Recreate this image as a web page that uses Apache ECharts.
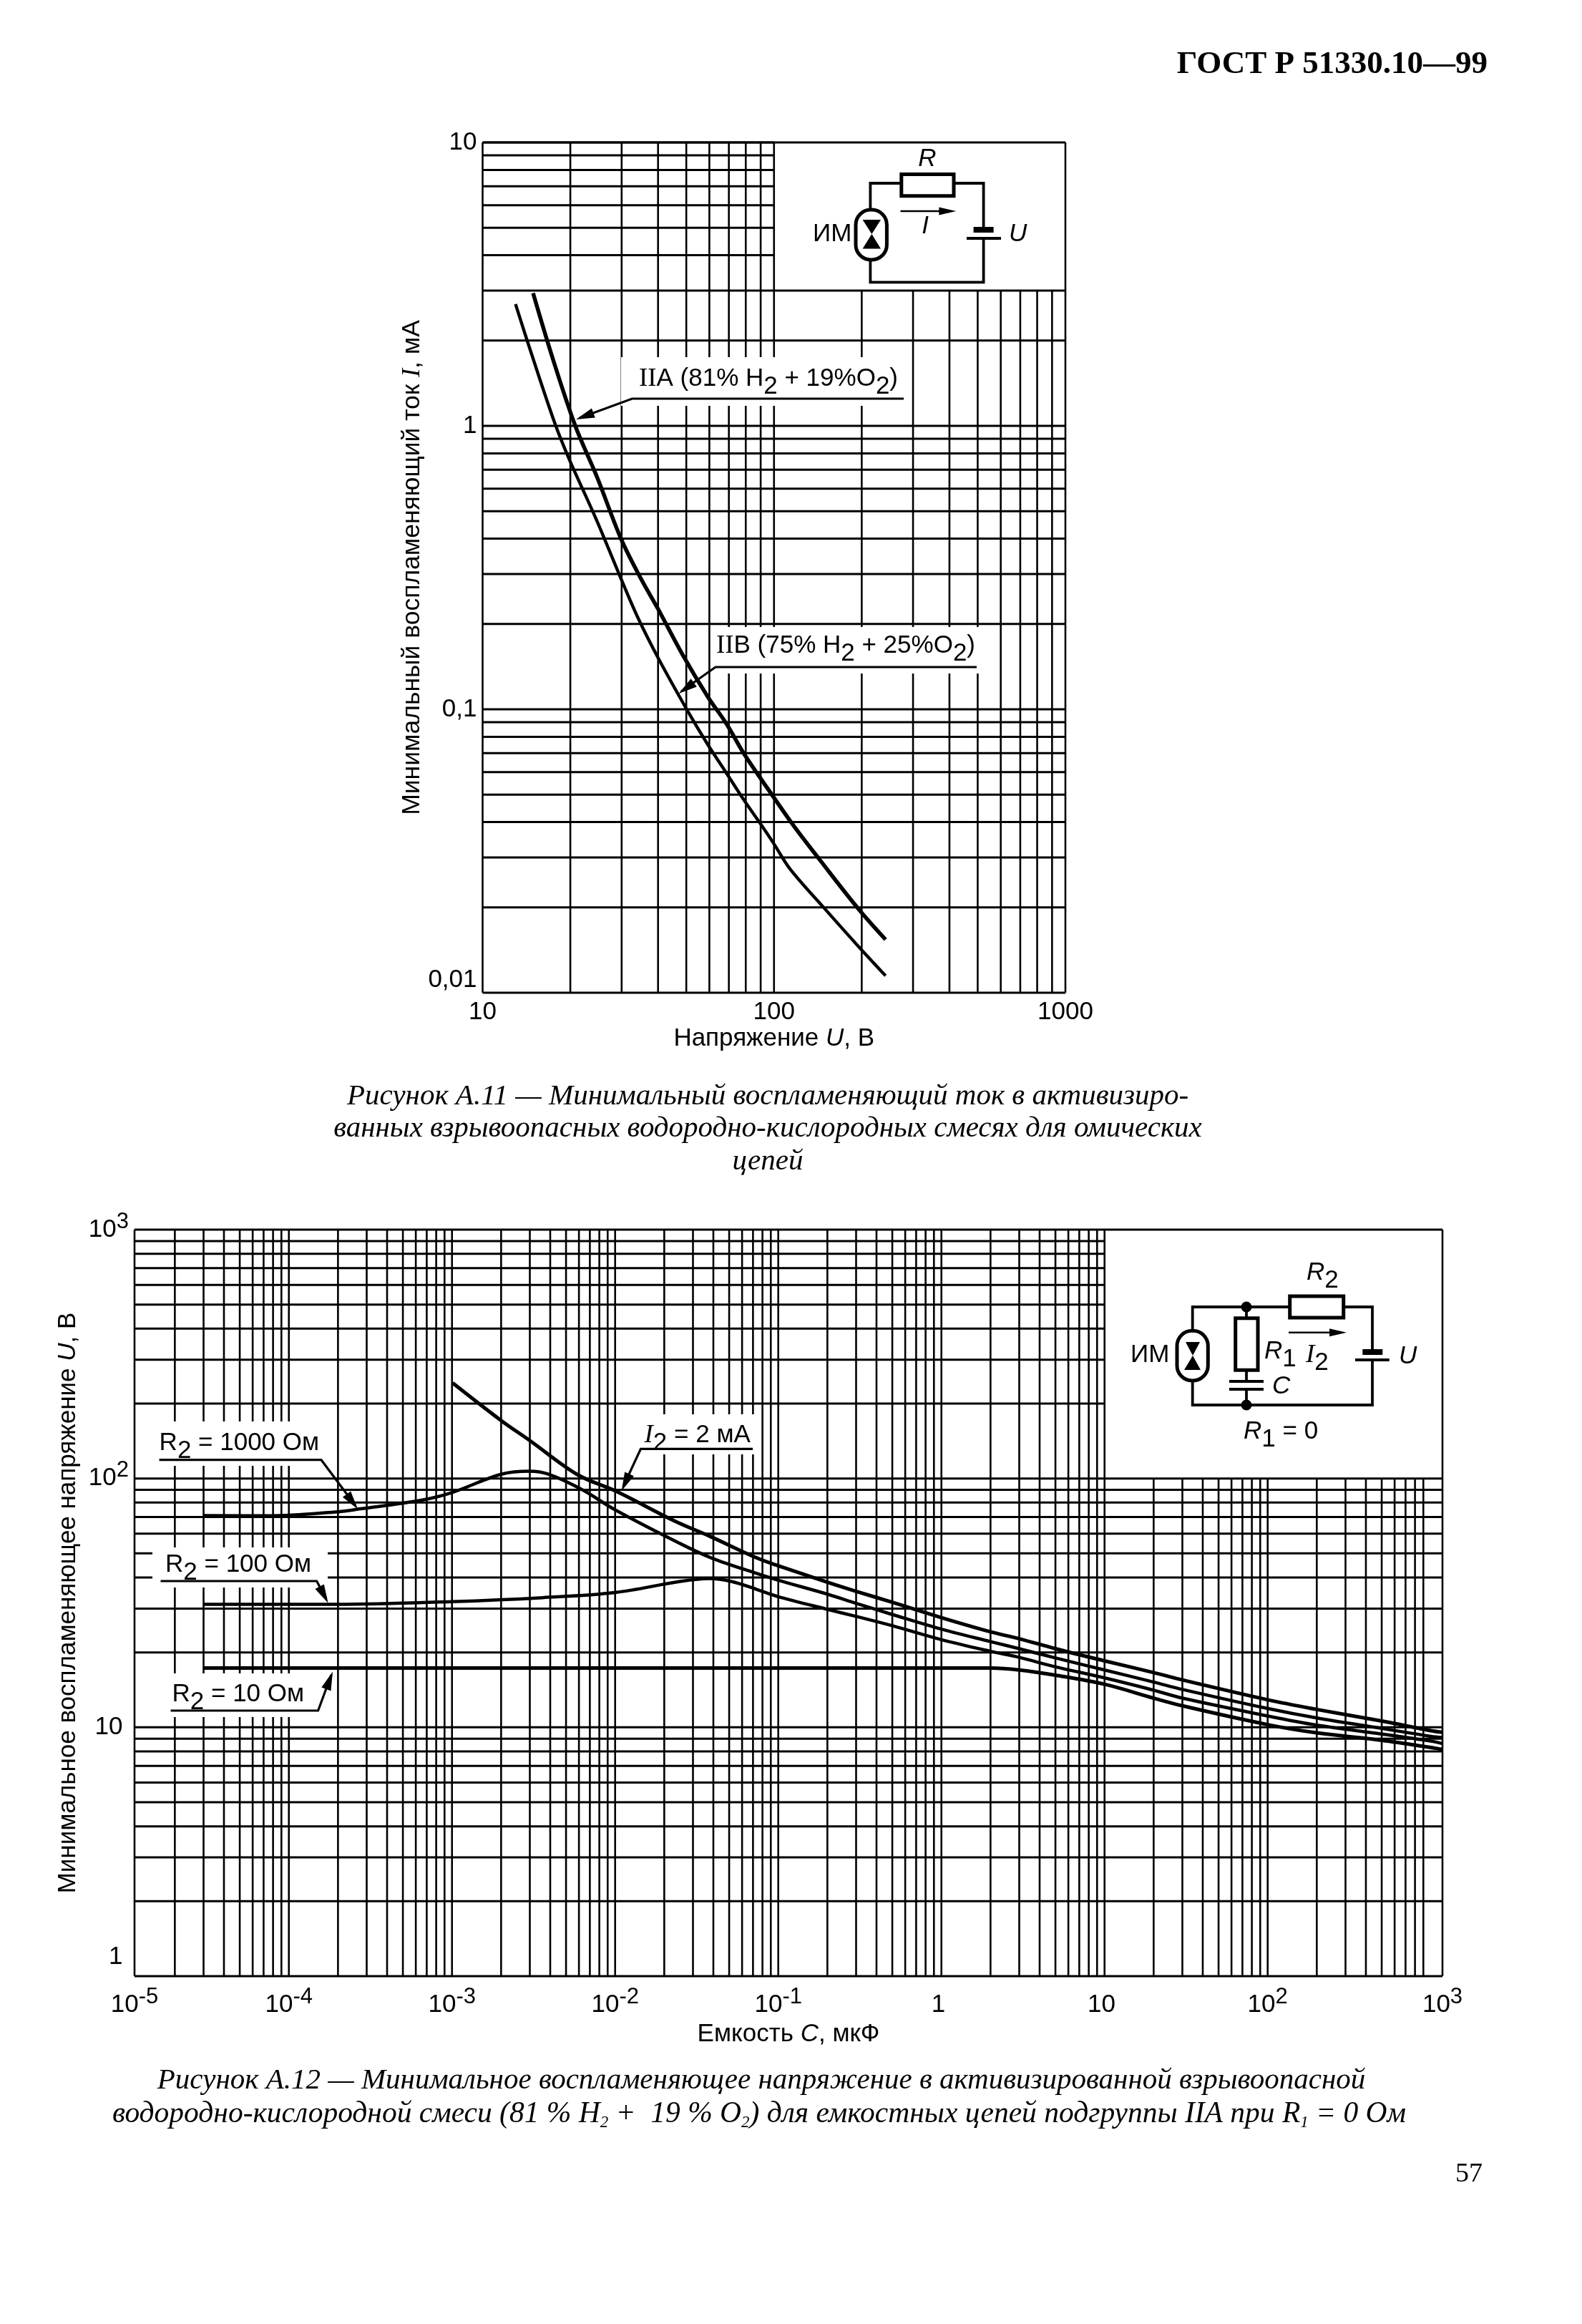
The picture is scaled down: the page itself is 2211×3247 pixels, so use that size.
<!DOCTYPE html>
<html><head><meta charset="utf-8">
<style>html,body{margin:0;padding:0;background:#fff}#c{width:2211px;height:3247px}</style>
<script src="https://cdn.jsdelivr.net/npm/echarts@6/dist/echarts.min.js"></script>
</head><body><div id="c"></div>
<script>
// ---------- Figure A.11 data ----------
const xTickLabels1 = ['10','100','1000'];
const yTickLabels1 = ['0,01','0,1','1','10'];
const curveIIA = [[14.9,2.94],[17.4,1.73],[20.8,1.0],[24.7,0.66],[29.9,0.398],[35,0.288],[40,0.226],[48.7,0.155],[59.3,0.1106],[68.5,0.0893],[79,0.0695],[98.2,0.0501],[117.5,0.0385],[143,0.0296],[194.5,0.0198],[241.5,0.0154]];
const curveIIB = [[12.97,2.69],[14.55,1.86],[17.7,1.02],[19.8,0.765],[24.5,0.47],[29.4,0.30],[34,0.212],[40,0.152],[50.5,0.0988],[59.3,0.075],[68.5,0.0598],[79,0.0477],[89.8,0.0395],[100,0.0335],[113,0.0275],[148.6,0.0199],[194.5,0.0146],[241.5,0.01148]];
// ---------- Figure A.12 data ----------
const xTickExp2 = [-5,-4,-3,-2,-1,0,1,2,3];
const yTickExp2 = [0,1,2,3];
const curveI2mA = [[1.01e-3,242],[2e-3,171],[3e-3,142],[5.9e-3,103.5],[0.0102,88.7],[0.0231,67.5],[0.0378,58.7],[0.074,47.9],[0.1,44.6],[0.2,38.3],[0.3,35.2],[0.5,31.8],[1,27.6],[2,24.2],[3,22.7],[5,20.7],[10,18.5],[20,16.6],[30,15.5],[100,12.9],[200,11.8],[500,10.6],[1000,9.7],[1179,9.55]];
const curveR1000 = [[3e-5,71],[7.5e-5,70.8],[2e-4,73.5],[2.74e-4,75.5],[6.3e-4,81.5],[1e-3,87.8],[2e-3,104],[3e-3,107],[3.9e-3,104],[6.3e-3,90],[0.01,74.8],[0.0247,55],[0.039,47.9],[0.074,41.5],[0.1,39],[0.2,34.3],[0.3,31.5],[0.5,28.4],[1,24.8],[2,22.1],[3,20.7],[5,19],[10,17],[20,15.2],[30,14.2],[100,11.9],[200,10.9],[500,9.9],[1000,9.2],[1179,9.1]];
const curveR100 = [[3e-5,31.2],[2e-4,31.2],[1e-3,32],[3.6e-3,33.2],[0.01,34.8],[0.0247,38.5],[0.0378,39.6],[0.052,38.5],[0.074,35.8],[0.1,33.5],[0.2,29.8],[0.3,27.9],[0.5,25.6],[1,22.5],[2,20.2],[3,19.1],[5,17.5],[10,15.8],[20,14.1],[30,13.1],[100,11.1],[200,10.2],[500,9.4],[1000,8.8],[1179,8.6]];
const curveR10 = [[3e-5,17.3],[1e-3,17.3],[0.1,17.3],[2,17.3],[3,17],[5,16.2],[10,14.9],[20,13.1],[30,12.2],[100,10.25],[200,9.5],[500,8.87],[1000,8.3],[1179,8.15]];
const mantissas = [1,2,3,4,5,6,7,8,9];

const SANS='"Liberation Sans",Arial,sans-serif', SERIF='"Liberation Serif","Times New Roman",serif';
const BK='#000';
const xMin2=1.132e-5, xMax2=1179;

function decadeLines(exps, from, to){
  const out=[]; exps.forEach(e=>mantissas.forEach(m=>{const v=m*Math.pow(10,e); if(v>=from*0.999&&v<=to*1.001) out.push(v);})); return out;
}
// chart 1 grid lines (the inset x>100, y>3 stays empty)
const seg1=[];
decadeLines([1,2],10,1000).forEach(x=>seg1.push([x,0.01,x,x>100?3:10]));
decadeLines([-2,-1,0,1],0.01,10).forEach(y=>seg1.push([10,y,y>3?100:1000,y]));
seg1.push([1000,0.01,1000,10],[10,10,1000,10]);
// chart 2 grid lines (the inset x>10, y>100 stays empty)
const seg2=[];
decadeLines([-5,-4,-3,-2,-1,0,1,2],xMin2,1000).forEach(x=>seg2.push([x,1,x,x>10?100:1000]));
decadeLines([0,1,2],1,1000).forEach(y=>seg2.push([xMin2,y,y>100?10:xMax2,y]));
seg2.push([xMin2,1,xMin2,1000],[xMax2,1,xMax2,1000],[xMin2,1000,xMax2,1000]);

function gridSeries(data,idx){return {type:'custom',xAxisIndex:idx,yAxisIndex:idx,silent:true,clip:false,z:1,data,encode:{x:[0,2],y:[1,3]},
  renderItem:(p,api)=>{const a=api.coord([api.value(0),api.value(1)]),b=api.coord([api.value(2),api.value(3)]);
    return {type:'line',shape:{x1:a[0],y1:a[1],x2:b[0],y2:b[1]},style:{stroke:BK,lineWidth:a[0]===b[0]?2.6:3}};}};}
function curve(name,data,idx,w){return {name,type:'line',xAxisIndex:idx,yAxisIndex:idx,data,showSymbol:false,smooth:0.35,silent:true,clip:false,z:3,
  lineStyle:{color:BK,width:w,cap:'butt',join:'round'}};}

// ---------- annotation helpers ----------
const g=[];
const rect=(x1,y1,x2,y2,o={})=>g.push({type:'rect',z:5,silent:true,shape:{x:x1,y:y1,width:x2-x1,height:y2-y1,r:o.r||0},style:{fill:o.fill===undefined?'#fff':o.fill,stroke:o.stroke||null,lineWidth:o.lw||0}});
const poly=(pts,lw=3.2)=>g.push({type:'polyline',z:6,silent:true,shape:{points:pts},style:{stroke:BK,lineWidth:lw,fill:null}});
const tri=(pts)=>g.push({type:'polygon',z:6,silent:true,shape:{points:pts},style:{fill:BK}});
const dot=(x,y,r)=>g.push({type:'circle',z:7,silent:true,shape:{cx:x,cy:y,r},style:{fill:BK}});
function arrow(tip,from,len=26,hw=7){const dx=from[0]-tip[0],dy=from[1]-tip[1],d=Math.hypot(dx,dy),ux=dx/d,uy=dy/d;
  tri([tip,[tip[0]+ux*len-uy*hw,tip[1]+uy*len+ux*hw],[tip[0]+ux*len+uy*hw,tip[1]+uy*len-ux*hw]]);}
function T(x,y,text,o={}){g.push({type:'text',z:8,silent:true,x,y,style:{text,fill:BK,fontFamily:o.ff||SANS,fontSize:o.fs||35,fontStyle:o.it?'italic':'normal',fontWeight:o.b?'bold':'normal',
  textAlign:o.al||'left',textVerticalAlign:'middle',rich:o.rich||undefined}});}
const richSans=(fs)=>({n:{fontFamily:SANS,fontSize:fs,fill:BK},i:{fontFamily:SANS,fontSize:fs,fontStyle:'italic',fill:BK},
  ti:{fontFamily:SERIF,fontSize:fs*1.05,fontStyle:'italic',fill:BK},tn:{fontFamily:SERIF,fontSize:fs*1.05,fill:BK},
  s:{fontFamily:SANS,fontSize:fs,fill:BK,padding:[Math.round(fs*0.62),0,0,0]}});
const capRich=(fs)=>({n:{fontFamily:SERIF,fontSize:fs,fontStyle:'italic',fill:BK},s:{fontFamily:SERIF,fontSize:fs*0.55,fontStyle:'italic',fill:BK,padding:[Math.round(fs*0.55),0,0,0]}});

// page furniture
T(2079,90,'ГОСТ Р 51330.10—99',{ff:SERIF,fs:45,b:true,al:'right'});
T(2072,3038,'57',{ff:SERIF,fs:38,al:'right'});
T(1073,1532,'Рисунок А.11 — Минимальный воспламеняющий ток в активизиро-',{ff:SERIF,fs:41,it:true,al:'center'});
T(1073,1577,'ванных взрывоопасных водородно-кислородных смесях для омических',{ff:SERIF,fs:41,it:true,al:'center'});
T(1073,1623,'цепей',{ff:SERIF,fs:41,it:true,al:'center'});
T(1064,2907,'Рисунок А.12 — Минимальное воспламеняющее напряжение в активизированной взрывоопасной',{ff:SERIF,fs:41,it:true,al:'center'});
T(1061,2954,'{n|водородно-кислородной смеси (81 % H}{s|2}{n| +  19 % O}{s|2}{n|) для емкостных цепей подгруппы IIA при R}{s|1}{n| = 0 Ом}',{rich:capRich(41.5),al:'center'});

// chart 1 labels with masks
rect(868,499,1265,567);
T(893,529,'{tn|II}{n|A (81% H}{s|2}{n| + 19%O}{s|2}{n|)}',{rich:richSans(35)});
poly([[1263,557],[883.5,557],[810,584]]); arrow([805,586],[883.5,557]);
rect(995,876,1368,941);
T(1001,902,'{tn|II}{n|B (75% H}{s|2}{n| + 25%O}{s|2}{n|)}',{rich:richSans(35)});
poly([[1365,932],[1000,932],[952,966]]); arrow([948.6,969],[1000,932]);

// chart 1 inset schematic
poly([[1216.4,293],[1216.4,256],[1259.8,256]],3.8);
poly([[1333,256],[1374.6,256],[1374.6,320.7]],3.8);
poly([[1374.6,333],[1374.6,394.4],[1216.4,394.4],[1216.4,363]],3.8);
rect(1259.8,243.5,1333,273.8,{stroke:BK,lw:5});
rect(1196,293,1239.4,363,{stroke:BK,lw:5,r:21});
tri([[1205.6,307],[1231,307],[1218.4,327]]);tri([[1205.6,347.5],[1231,347.5],[1218.4,327]]);
rect(1360.6,317,1388.6,325,{fill:BK});
poly([[1351,333],[1399,333]],3.8);
poly([[1258.5,295],[1320,295]],2.6); arrow([1336.3,295],[1258.5,295],24,5.5);
T(1296,222.5,'R',{fs:35,it:true,al:'center'});
T(1293,316,'I',{fs:35,it:true,al:'center'});
T(1136,327,'ИМ',{fs:35});
T(1410,327,'U',{fs:35,it:true});

// chart 2 labels with masks
rect(210,1986,458,2048);
T(222.6,2016,'{n|R}{s|2}{n| = 1000 Ом}',{rich:richSans(35)});
poly([[222.6,2039.7],[449,2039.7],[497,2104]]); arrow([500,2108.6],[449,2039.7]);
rect(213,2162,458,2218);
T(231,2186,'{n|R}{s|2}{n| = 100 Ом}',{rich:richSans(35)});
poly([[224.5,2209],[442.6,2209],[456,2234]]); arrow([458.6,2239.7],[442.6,2209]);
rect(232,2338,468,2399);
T(240.5,2367,'{n|R}{s|2}{n| = 10 Ом}',{rich:richSans(35)});
poly([[238.6,2390],[444.6,2390],[463,2340]]); arrow([465,2335.6],[444.6,2390]);
rect(889,1976,1062,2032);
T(900.6,2005,'{ti|I}{s|2}{n| = 2 мА}',{rich:richSans(35)});
poly([[1052,2024.4],[895.5,2024.4],[871,2077]]); arrow([868.7,2083],[895.5,2024.4]);

// chart 2 inset schematic
poly([[1666.7,1859.3],[1666.7,1826],[1802.7,1826]],3.8);
poly([[1877.7,1826],[1918,1826],[1918,1889]],3.8);
poly([[1918,1900],[1918,1963],[1666.7,1963],[1666.7,1929]],3.8);
poly([[1742,1826],[1742,1841.7]],3.8); poly([[1742,1914.3],[1742,1930]],3.8); poly([[1742,1941],[1742,1963]],3.8);
rect(1802.7,1811,1877.7,1841,{stroke:BK,lw:5});
rect(1726.7,1841.7,1758,1914.3,{stroke:BK,lw:5});
rect(1645,1859.3,1688.3,1929,{stroke:BK,lw:5,r:21});
tri([[1657,1875],[1677,1875],[1667,1894]]);tri([[1655,1914],[1678,1914],[1667,1894]]);
dot(1742,1826,7.5);dot(1742,1963,7.5);
poly([[1718,1930],[1766,1930]],3.8);poly([[1718,1941],[1766,1941]],3.8);
rect(1904.3,1885,1932.3,1893,{fill:BK});poly([[1894,1900],[1941.7,1900]],3.8);
poly([[1801,1861.7],[1865,1861.7]],2.6);arrow([1882,1861.7],[1801,1861.7],24,5.5);
T(1826,1778,'{i|R}{s|2}',{rich:richSans(35)});
T(1767,1888,'{i|R}{s|1}',{rich:richSans(35)});
T(1825,1893,'{ti|I}{s|2}',{rich:richSans(35)});
T(1955,1895,'U',{fs:35,it:true});
T(1778,1937,'C',{fs:35,it:true});
T(1580,1893,'ИМ',{fs:35});
T(1738,2000,'{i|R}{s|1}{n| = 0}',{rich:richSans(35)});

const sup2={b:{fontFamily:SANS,fontSize:35,color:BK},s:{fontFamily:SANS,fontSize:31,color:BK,padding:[0,0,22,0]}};
const expLabel=e=>{ if(e===0) return '{b|1}{s| }'; if(e===1) return '{b|10}{s| }'; return '{b|10}{s|'+e+'}'; };
const nameRich=(fs)=>({n:{fontFamily:SANS,fontSize:fs,color:BK},i:{fontFamily:SANS,fontSize:fs,fontStyle:'italic',color:BK},t:{fontFamily:SERIF,fontSize:fs,fontStyle:'italic',color:BK}});
const hidden={axisLine:{show:false},axisTick:{show:false},splitLine:{show:false},minorTick:{show:false},minorSplitLine:{show:false}};
const plain={fontFamily:SANS,fontSize:35,color:BK};

const option={
  animation:false,backgroundColor:'#fff',
  grid:[{left:674.5,top:199,width:814.5,height:1188},{left:188,top:1718,width:1828,height:1043}],
  xAxis:[
    {type:'log',gridIndex:0,min:10,max:1000,logBase:10,splitNumber:10,...hidden,
     axisLabel:{...plain,margin:10,showMinLabel:true,showMaxLabel:true,formatter:v=>xTickLabels1[Math.round(Math.log10(v))-1]},
     name:'{n|Напряжение }{i|U}{n|, В}',nameLocation:'center',nameGap:47,nameTextStyle:{color:BK,rich:nameRich(35)}},
    {type:'log',gridIndex:1,min:xMin2,max:xMax2,logBase:10,splitNumber:10,...hidden,
     axisLabel:{color:BK,margin:14,rich:sup2,showMinLabel:true,showMaxLabel:true,formatter:v=>{
        const l=Math.log10(v); if(Math.abs(v-xMin2)/xMin2<1e-3) return expLabel(xTickExp2[0]);
        if(Math.abs(v-xMax2)/xMax2<1e-3) return expLabel(xTickExp2[8]);
        const e=Math.round(l); return (e<3&&Math.abs(l-e)<1e-3)?expLabel(e):'';}},
     name:'{n|Емкость }{i|C}{n|, мкФ}',nameLocation:'center',nameGap:64,nameTextStyle:{color:BK,rich:nameRich(35)}}
  ],
  yAxis:[
    {type:'log',gridIndex:0,min:0.01,max:10,logBase:10,splitNumber:10,...hidden,
     axisLabel:{...plain,margin:8,showMinLabel:true,showMaxLabel:true,verticalAlignMinLabel:'bottom',formatter:v=>yTickLabels1[Math.round(Math.log10(v))+2]},
     name:'{n|Минимальный воспламеняющий ток }{t|I}{n|, мА}',nameLocation:'center',nameRotate:90,nameGap:79,nameTextStyle:{color:BK,rich:nameRich(35.5)}},
    {type:'log',gridIndex:1,min:1,max:1000,logBase:10,splitNumber:10,...hidden,
     axisLabel:{color:BK,margin:8,rich:sup2,showMinLabel:true,showMaxLabel:true,verticalAlignMinLabel:'bottom',formatter:v=>expLabel(yTickExp2[Math.round(Math.log10(v))])},
     name:'{n|Минимальное воспламеняющее напряжение }{i|U}{n|, В}',nameLocation:'center',nameRotate:90,nameGap:72,nameTextStyle:{color:BK,rich:nameRich(35)}}
  ],
  series:[
    gridSeries(seg1,0),gridSeries(seg2,1),
    curve('IIA',curveIIA,0,5.5),curve('IIB',curveIIB,0,4.4),
    curve('I2 = 2 мА',curveI2mA,1,5),curve('R2 = 1000 Ом',curveR1000,1,4.5),curve('R2 = 100 Ом',curveR100,1,4.5),curve('R2 = 10 Ом',curveR10,1,5)
  ],
  graphic:{elements:g}
};
echarts.init(document.getElementById('c'),null,{renderer:'canvas'}).setOption(option);
</script></body></html>
